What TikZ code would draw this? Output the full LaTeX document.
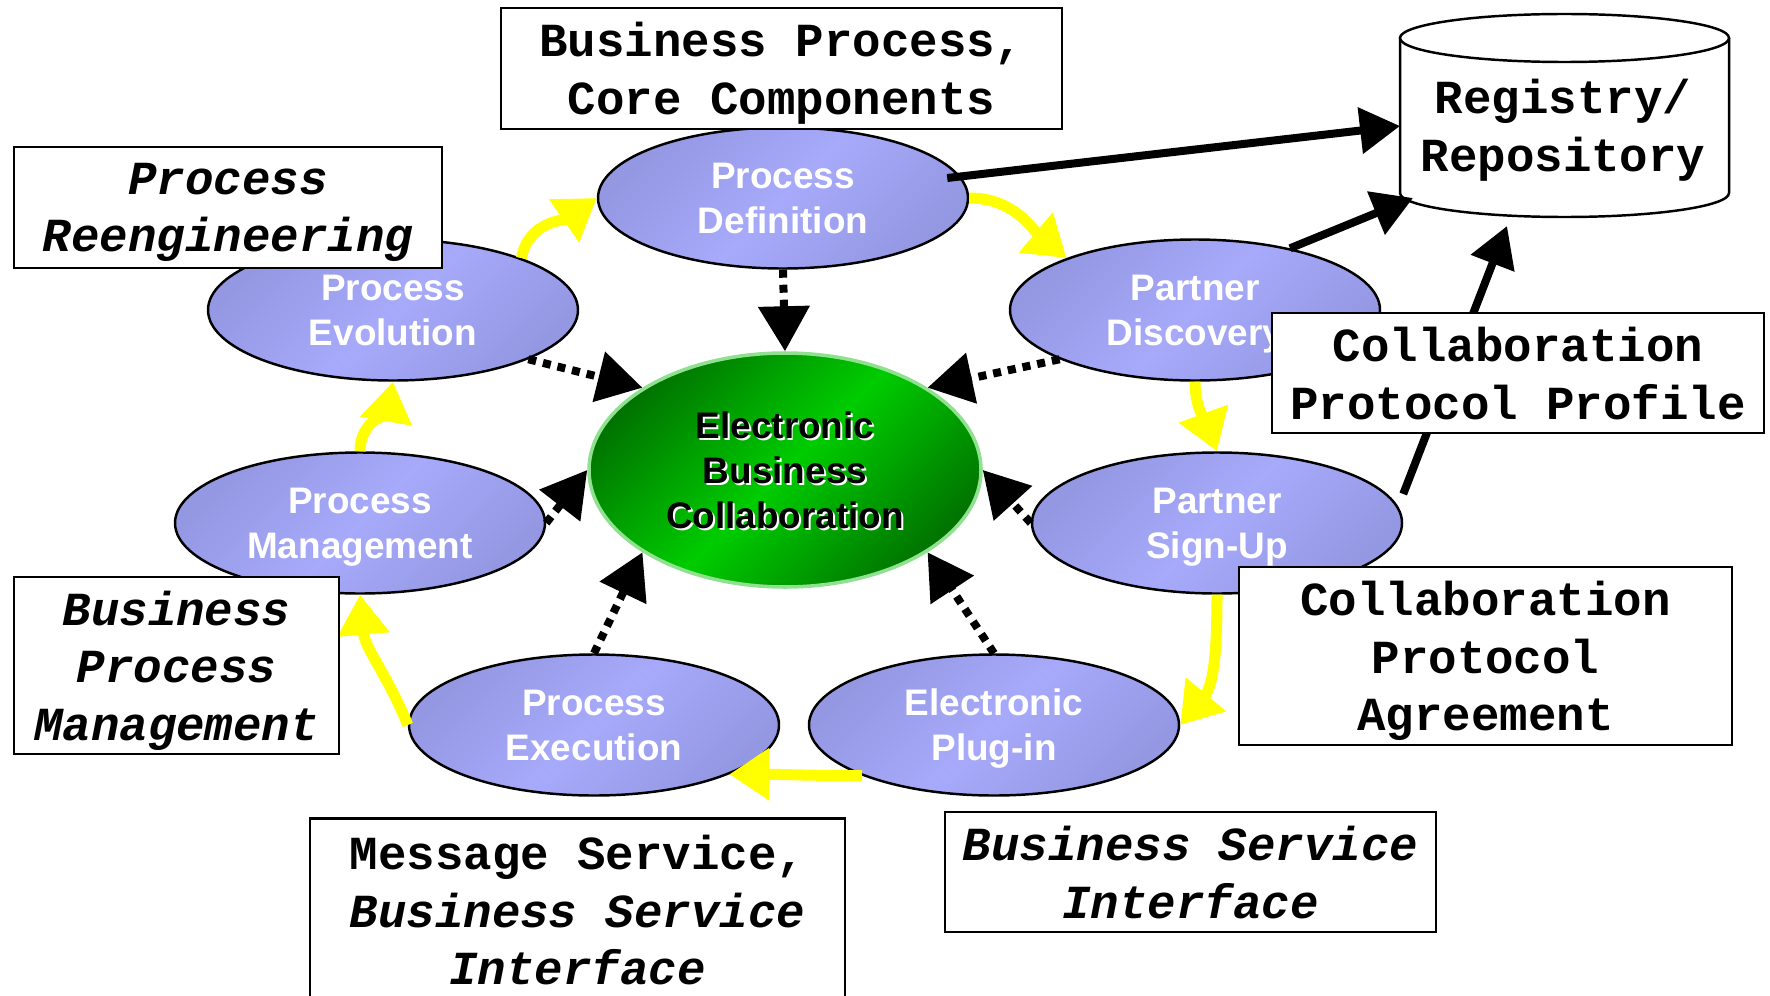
\documentclass[tikz,border=0pt]{standalone}
\usepackage{fontspec}
\setmainfont{Liberation Sans}
\setsansfont{Liberation Sans}
\setmonofont{Liberation Mono}
\usepackage{xcolor}
\usepackage{tikz}
\usetikzlibrary{shapes}
\usetikzlibrary{arrows.meta}
\usetikzlibrary{calc}
\definecolor{actfill}{HTML}{A7AAFA}
\definecolor{actedge}{HTML}{9497E2}
\definecolor{corelight}{HTML}{00CC00}
\definecolor{coredark}{HTML}{007400}
\definecolor{coreline}{HTML}{8FE08F}
\definecolor{cycle}{HTML}{FFFF00}
\newcommand{\boxfont}{\ttfamily\bfseries\fontsize{13.5}{16.4}\selectfont}
\newcommand{\actfont}{\sffamily\bfseries\fontsize{10.5}{12.8}\selectfont}

\begin{document}
\begin{tikzpicture}[
  act/.style={
    ellipse, draw=black, line width=0.7pt,
    minimum width=3.70cm, minimum height=1.41cm,
    top color=actedge, bottom color=actedge, middle color=actfill,
    shading angle=45,
    text=white, font=\actfont, align=center, inner sep=0pt,
    text depth=0pt},
  core/.style={
    ellipse, draw=coreline, line width=1pt,
    minimum width=3.92cm, minimum height=2.34cm,
    top color=coredark, bottom color=coredark, middle color=corelight,
    shading angle=45},
  coretext/.style={font=\actfont, align=center, text=#1, text depth=0pt},
  note/.style={
    rectangle, draw=black, fill=white, line width=0.7pt,
    font=\boxfont, align=center, inner sep=0pt, text depth=0pt},
  cyc/.style={
    -{Triangle[length=4mm,width=5mm]}, draw=cycle, line width=0.11cm},
  dep/.style={
    -{Triangle[length=4.5mm,width=5mm]}, line width=0.08cm,
    dash pattern=on 0.08cm off 0.07cm},
  feed/.style={
    -{Triangle[length=4mm,width=4.5mm]}, line width=0.08cm},
]
  \useasboundingbox (0,0) rectangle (17.70,9.95);

  % Activities round the cycle
  \node[act] (proc_def)  at (7.83, 7.97) {Process\\Definition};
  \node[act] (proc_evo)  at (3.93, 6.85) {Process\\Evolution};
  \node[act] (part_disc) at (11.95,6.85) {Partner\\Discovery};
  \node[act] (proc_mgmt) at (3.60, 4.72) {Process\\Management};
  \node[act] (part_sign) at (12.17,4.72) {Partner\\Sign-Up};
  \node[act] (proc_exec) at (5.94, 2.70) {Process\\Execution};
  \node[act] (plug_in)   at (9.94, 2.70) {Electronic\\Plug-in};

  % Collaboration in the middle
  \node[core] (ebc) at (7.85,5.25) {};
  \node[coretext=white] (ebc_sh) at (7.87,5.23)
      {Electronic\\Business\\Collaboration};
  \node[coretext=black] (ebc_txt) at (7.85,5.25)
      {Electronic\\Business\\Collaboration};

  % Dotted links into the middle
  \foreach \src/\dst in {proc_def.south/ebc.north, proc_evo.340/ebc.150,
      part_disc.200/ebc.30, proc_mgmt.east/ebc.west, part_sign.west/ebc.east,
      proc_exec.north/ebc.210, plug_in.north/ebc.330} {
    \draw[dep] (\src) -- (\dst);
  }

  % Yellow cycle
  \foreach \src/\dst/\o/\i in {proc_evo.22/proc_def.west/80/215,
      proc_def.east/part_disc.158/0/140,
      part_disc.south/part_sign.north/-90/110,
      part_sign.south/plug_in.east/-90/50,
      plug_in.201/proc_exec.340/180/0,
      proc_exec.west/proc_mgmt.south/112/-85,
      proc_mgmt.north/proc_evo.south/90/-100} {
    \draw[cyc] (\src) to[out=\o,in=\i] (\dst);
  }

  % Registry
  \def\regl{14.00}%
  \def\regr{17.29}%
  \def\regtop{9.57}%
  \def\regbot{8.02}%
  \draw[fill=white, line width=0.7pt] (\regl,\regtop) -- (\regl,\regbot)
      arc[start angle=180, end angle=360, x radius=1.645cm, y radius=0.24cm]
      -- (\regr,\regtop);
  \draw[fill=white, line width=0.7pt]
      (15.645,\regtop) ellipse [x radius=1.645cm, y radius=0.24cm];
  \node[font=\boxfont, align=center, text depth=0pt] (reg) at (15.63,8.70)
      {Registry/\\Repository};
  \coordinate (reg_a) at (14.00,8.69);
  \coordinate (reg_b) at (14.13,7.97);
  \coordinate (reg_c) at (15.07,7.69);

  \draw[feed] ($(proc_def.east)+(-0.22,0.2)$) -- (reg_a);
  \draw[feed] (part_disc.33) -- (reg_b);
  \draw[feed] ($(part_sign.east)+(0,0.29)$) -- (reg_c);

  % Notes
  \node[note, minimum width=5.61cm, minimum height=1.21cm] (bpcc)
      at (7.815,9.265) {Business Process,\\Core Components};
  \node[note, minimum width=4.28cm, minimum height=1.21cm,
      font=\boxfont\itshape] (reeng)
      at (2.28,7.875) {Process\\Reengineering};
  \node[note, minimum width=4.92cm, minimum height=1.20cm] (cpp)
      at (15.18,6.22) {Collaboration\\Protocol Profile};
  \node[note, minimum width=4.93cm, minimum height=1.78cm] (cpa)
      at (14.855,3.39) {Collaboration\\Protocol\\Agreement};
  \node[note, minimum width=3.25cm, minimum height=1.77cm,
      font=\boxfont\itshape] (bpm)
      at (1.765,3.295) {Business\\Process\\Management};
  \node[note, minimum width=5.35cm, minimum height=1.83cm] (msg)
      at (5.775,0.85)
      {Message Service,\\\textit{Business Service}\\\textit{Interface}};
  \node[note, minimum width=4.91cm, minimum height=1.20cm,
      font=\boxfont\itshape] (bsi)
      at (11.905,1.23) {Business Service\\Interface};

\end{tikzpicture}
\end{document}
